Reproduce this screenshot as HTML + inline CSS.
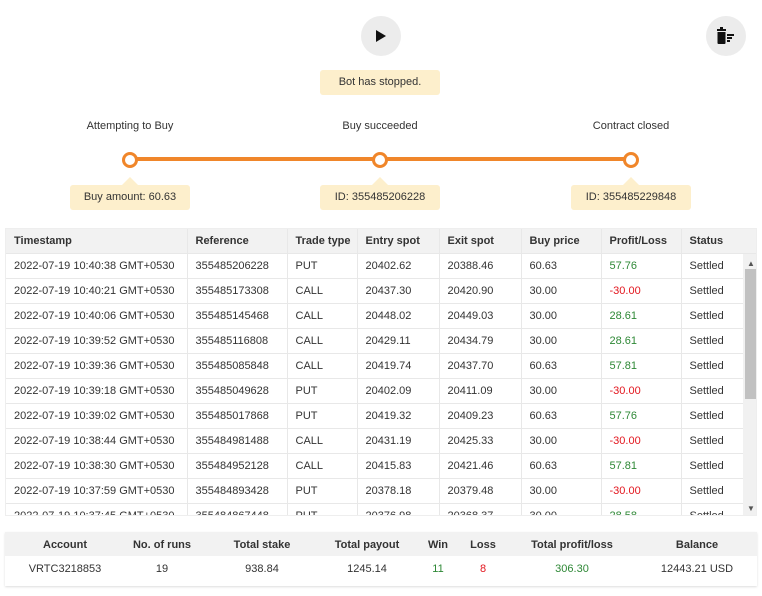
<!DOCTYPE html>
<html><head><style>
body{margin:0;width:762px;height:596px;background:#fff;font-family:"Liberation Sans",sans-serif;font-size:11px;color:#333;position:relative;overflow:hidden}
.abs{position:absolute}
.circ{position:absolute;width:40px;height:40px;border-radius:50%;background:#ececec}
.tip{position:absolute;background:#fdefcc;border-radius:3px;height:25px;line-height:25px;text-align:center;font-size:11px;color:#333}
.lbl{position:absolute;width:200px;text-align:center;font-size:11px}
.dot{position:absolute;width:10px;height:10px;border:3px solid #f0862a;border-radius:50%;background:#fff;top:152px}
.arr{position:absolute;width:0;height:0;border-left:8px solid transparent;border-right:8px solid transparent;border-bottom:8px solid #fdefcc;top:177px}
table{border-collapse:collapse;font-size:11px}
#t td{height:24px;border-bottom:1px solid #e8e8e8;border-right:1px solid #e8e8e8;padding:0 0 0 8px;white-space:nowrap}
#t tr.h td{background:#f2f2f2;font-weight:bold;color:#333}
.g{color:#2e8836}.r{color:#e3161e}
</style></head><body>
<div class="circ" style="left:361px;top:16px"></div>
<svg class="abs" style="left:375px;top:29px" width="12" height="14"><path d="M1 1 L11 7 L1 13Z" fill="#111"/></svg>
<div class="circ" style="left:706px;top:16px"></div>
<svg class="abs" style="left:715px;top:26px" width="22" height="20"><rect x="2" y="3" width="9" height="2" fill="#111"/><rect x="5" y="1" width="3" height="2" fill="#111"/><path d="M2.5 6 H10.5 V17 Q10.5 18 9.5 18 H3.5 Q2.5 18 2.5 17Z" fill="#111"/><rect x="12" y="8" width="7" height="2" fill="#111"/><rect x="12" y="11" width="5" height="2" fill="#111"/><rect x="12" y="14" width="3" height="2" fill="#111"/></svg>
<div class="tip" style="left:320px;top:70px;width:120px">Bot has stopped.</div>

<div class="lbl" style="left:30px;top:120px">Attempting to Buy</div>
<div class="lbl" style="left:280px;top:120px">Buy succeeded</div>
<div class="lbl" style="left:531px;top:120px">Contract closed</div>
<div class="abs" style="left:130px;top:157px;width:500px;height:4px;background:#f0862a"></div>
<div class="dot" style="left:122px"></div>
<div class="dot" style="left:372px"></div>
<div class="dot" style="left:623px"></div>
<div class="arr" style="left:122px"></div>
<div class="arr" style="left:372px"></div>
<div class="arr" style="left:623px"></div>
<div class="tip" style="left:70px;top:185px;width:120px">Buy amount: 60.63</div>
<div class="tip" style="left:320px;top:185px;width:120px">ID: 355485206228</div>
<div class="tip" style="left:571px;top:185px;width:120px">ID: 355485229848</div>

<div class="abs" style="left:5px;top:228px;width:752px;height:288px;overflow:hidden;border:1px solid #eee;box-sizing:border-box">
<table id="t" style="width:751px;table-layout:fixed">
<colgroup><col style="width:181px"><col style="width:100px"><col style="width:70px"><col style="width:82px"><col style="width:82px"><col style="width:80px"><col style="width:80px"><col style="width:76px"></colgroup>
<tr class="h"><td>Timestamp</td><td>Reference</td><td>Trade type</td><td>Entry spot</td><td>Exit spot</td><td>Buy price</td><td>Profit/Loss</td><td>Status</td></tr>
<tr><td>2022-07-19 10:40:38 GMT+0530</td><td>355485206228</td><td>PUT</td><td>20402.62</td><td>20388.46</td><td>60.63</td><td class="g">57.76</td><td>Settled</td></tr>
<tr><td>2022-07-19 10:40:21 GMT+0530</td><td>355485173308</td><td>CALL</td><td>20437.30</td><td>20420.90</td><td>30.00</td><td class="r">-30.00</td><td>Settled</td></tr>
<tr><td>2022-07-19 10:40:06 GMT+0530</td><td>355485145468</td><td>CALL</td><td>20448.02</td><td>20449.03</td><td>30.00</td><td class="g">28.61</td><td>Settled</td></tr>
<tr><td>2022-07-19 10:39:52 GMT+0530</td><td>355485116808</td><td>CALL</td><td>20429.11</td><td>20434.79</td><td>30.00</td><td class="g">28.61</td><td>Settled</td></tr>
<tr><td>2022-07-19 10:39:36 GMT+0530</td><td>355485085848</td><td>CALL</td><td>20419.74</td><td>20437.70</td><td>60.63</td><td class="g">57.81</td><td>Settled</td></tr>
<tr><td>2022-07-19 10:39:18 GMT+0530</td><td>355485049628</td><td>PUT</td><td>20402.09</td><td>20411.09</td><td>30.00</td><td class="r">-30.00</td><td>Settled</td></tr>
<tr><td>2022-07-19 10:39:02 GMT+0530</td><td>355485017868</td><td>PUT</td><td>20419.32</td><td>20409.23</td><td>60.63</td><td class="g">57.76</td><td>Settled</td></tr>
<tr><td>2022-07-19 10:38:44 GMT+0530</td><td>355484981488</td><td>CALL</td><td>20431.19</td><td>20425.33</td><td>30.00</td><td class="r">-30.00</td><td>Settled</td></tr>
<tr><td>2022-07-19 10:38:30 GMT+0530</td><td>355484952128</td><td>CALL</td><td>20415.83</td><td>20421.46</td><td>60.63</td><td class="g">57.81</td><td>Settled</td></tr>
<tr><td>2022-07-19 10:37:59 GMT+0530</td><td>355484893428</td><td>PUT</td><td>20378.18</td><td>20379.48</td><td>30.00</td><td class="r">-30.00</td><td>Settled</td></tr>
<tr><td>2022-07-19 10:37:45 GMT+0530</td><td>355484867448</td><td>PUT</td><td>20376.98</td><td>20368.37</td><td>30.00</td><td class="g">28.58</td><td>Settled</td></tr>
</table>
<div class="abs" style="left:737px;top:25px;width:14px;height:262px;background:#f1f1f1"></div>
<div class="abs" style="left:739px;top:40px;width:11px;height:130px;background:#c1c1c1"></div>
<div class="abs" style="left:741px;top:30px;font-size:8px;color:#555">▲</div>
<div class="abs" style="left:741px;top:275px;font-size:8px;color:#555">▼</div>
</div>

<div class="abs" style="left:5px;top:532px;width:752px;height:54px;box-shadow:0 1px 2px #ddd">
<div class="abs" style="left:0;top:0;width:752px;height:24px;background:#f2f2f2"></div>
<div class="abs" style="top:7px;left:0;width:752px;font-weight:bold">
<span class="abs" style="left:0;width:120px;text-align:center">Account</span>
<span class="abs" style="left:107px;width:100px;text-align:center">No. of runs</span>
<span class="abs" style="left:207px;width:100px;text-align:center">Total stake</span>
<span class="abs" style="left:312px;width:100px;text-align:center">Total payout</span>
<span class="abs" style="left:413px;width:40px;text-align:center">Win</span>
<span class="abs" style="left:458px;width:40px;text-align:center">Loss</span>
<span class="abs" style="left:497px;width:140px;text-align:center">Total profit/loss</span>
<span class="abs" style="left:632px;width:120px;text-align:center">Balance</span>
</div>
<div class="abs" style="top:31px;left:0;width:752px">
<span class="abs" style="left:0;width:120px;text-align:center">VRTC3218853</span>
<span class="abs" style="left:107px;width:100px;text-align:center">19</span>
<span class="abs" style="left:207px;width:100px;text-align:center">938.84</span>
<span class="abs" style="left:312px;width:100px;text-align:center">1245.14</span>
<span class="abs g" style="left:413px;width:40px;text-align:center">11</span>
<span class="abs r" style="left:458px;width:40px;text-align:center">8</span>
<span class="abs g" style="left:497px;width:140px;text-align:center">306.30</span>
<span class="abs" style="left:632px;width:120px;text-align:center">12443.21 USD</span>
</div>
</div>
</body></html>
